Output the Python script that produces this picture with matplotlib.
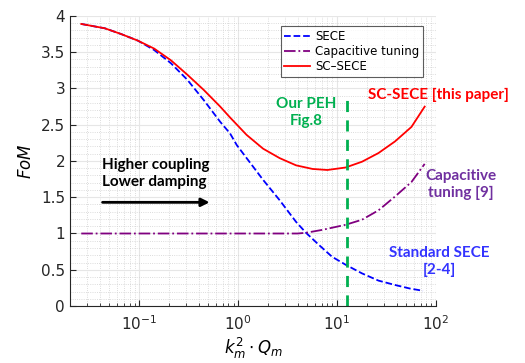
import numpy as np
import matplotlib
matplotlib.use('Agg')
from matplotlib import pyplot as plt
from matplotlib.ticker import MultipleLocator, LogLocator, NullFormatter, FormatStrFormatter

# values
x_sece = [0.026, 0.045, 0.066, 0.097, 0.142, 0.209, 0.307, 0.45, 0.66, 0.83, 0.97,
          1.13, 1.22, 1.79, 2.63, 3.86, 4.86, 6.6, 8.9, 12.2, 17.9, 26.3, 38.6, 55, 74]
y_sece = [3.89, 3.83, 3.75, 3.66, 3.53, 3.35, 3.12, 2.84, 2.54, 2.38, 2.22,
          2.10, 2.04, 1.74, 1.46, 1.16, 1.01, 0.84, 0.68, 0.57, 0.45, 0.35, 0.29, 0.24, 0.21]

x_cap = [0.026, 0.1, 0.5, 0.83, 2.0, 4.0, 4.86, 7.1, 12.2, 17.9, 26.3, 38.6, 56.6, 77]
y_cap = [1.0, 1.0, 1.0, 1.0, 1.0, 1.0, 1.01, 1.05, 1.12, 1.19, 1.32, 1.51, 1.71, 1.96]

x_sc = [0.026, 0.045, 0.066, 0.097, 0.142, 0.209, 0.307, 0.45, 0.66, 0.83, 1.22,
        1.79, 2.63, 3.86, 5.67, 8.0, 12.2, 17.9, 26.3, 38.6, 56.6, 77]
y_sc = [3.89, 3.83, 3.75, 3.66, 3.55, 3.39, 3.19, 2.98, 2.75, 2.60, 2.36,
        2.17, 2.04, 1.94, 1.89, 1.876, 1.91, 1.99, 2.11, 2.27, 2.47, 2.75]

x_peh = [12.5, 12.5]
y_peh = [0, 2.88]

fig = plt.figure(figsize=(5.25, 3.63), dpi=100)
ax = fig.add_axes([0.1333, 0.157, 0.697, 0.799])

ax.plot(x_sece, y_sece, '--', color='#0000FF', lw=1.3, label='SECE')
ax.plot(x_cap, y_cap, '-.', color='#800080', lw=1.3, label='Capacitive tuning')
ax.plot(x_sc, y_sc, '-', color='#FF0000', lw=1.3, label='SC\u2013SECE')
ax.plot(x_peh, y_peh, color='#00B050', ls=(0, (4, 3)), lw=2)

ax.set_xscale('log')
ax.set_xlim(0.02, 100)
ax.set_ylim(0, 4)
ax.yaxis.set_major_locator(MultipleLocator(0.5))
ax.yaxis.set_minor_locator(MultipleLocator(0.1))
ax.yaxis.set_major_formatter(FormatStrFormatter('%g'))
ax.xaxis.set_minor_locator(LogLocator(base=10, subs=np.arange(2, 10)))
ax.xaxis.set_minor_formatter(NullFormatter())

ax.grid(True, which='major', color='#e6e6e6', lw=0.8)
ax.grid(True, which='minor', color='#d0d0d0', ls=':', lw=0.6)
ax.set_axisbelow(True)
for s in ['top', 'right']:
    ax.spines[s].set_visible(False)
for s in ['left', 'bottom']:
    ax.spines[s].set_color('#262626')
    ax.spines[s].set_linewidth(0.8)
ax.tick_params(which='both', direction='in', colors='#262626', labelsize=11)
ax.tick_params(which='major', length=4)
ax.tick_params(which='minor', length=2)
ax.tick_params(axis='y', which='minor', length=0)
ax.tick_params(axis='x', pad=6)

ax.set_xlabel('$k_m^2 \\cdot Q_m$', fontsize=12, labelpad=2)
ax.set_ylabel('$FoM$', fontsize=12)

leg = ax.legend(loc='upper right', bbox_to_anchor=(0.98, 0.985), fontsize=8.5,
                frameon=True, fancybox=False, handlelength=2.2, borderpad=0.3,
                labelspacing=0.2, handletextpad=0.4)
leg.get_frame().set_edgecolor('#333333')
leg.get_frame().set_linewidth(0.8)

ax.text(0.042, 1.83, 'Higher coupling\nLower damping', fontsize=11, fontweight='bold',
        family='Lato', ha='left', va='center', linespacing=1.25)
ax.annotate('', xy=(0.55, 1.43), xytext=(0.04, 1.43),
            arrowprops=dict(arrowstyle='-|>', color='black', lw=2, mutation_scale=12))
ax.text(4.86, 2.67, 'Our PEH\nFig.8', color='#00B050', fontsize=11, fontweight='bold',
        family='Lato', ha='center', va='center', linespacing=1.25)
ax.text(107, 2.91, 'SC-SECE [this paper]', color='#FF0000', fontsize=11, fontweight='bold',
        family='Lato', ha='center', va='center', clip_on=False)
ax.text(178, 1.67, 'Capacitive\ntuning [9]', color='#7030A0', fontsize=11, fontweight='bold',
        family='Lato', ha='center', va='center', linespacing=1.25, clip_on=False)
ax.text(109, 0.61, 'Standard SECE\n[2-4]', color='#3333FF', fontsize=11, fontweight='bold',
        family='Lato', ha='center', va='center', linespacing=1.25, clip_on=False)

fig.savefig('out.png', dpi=100)
